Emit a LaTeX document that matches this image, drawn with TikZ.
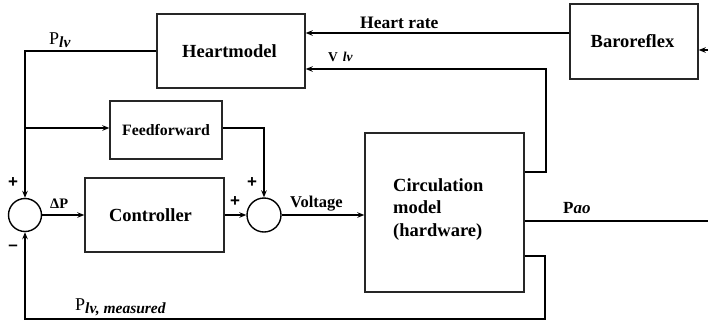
\documentclass[tikz,border=0pt]{standalone}
\usepackage{fontspec}
\setmainfont{Liberation Serif}
\newfontfamily\signfont{Liberation Sans}
\usetikzlibrary{arrows.meta,calc}
\begin{document}
\begin{tikzpicture}[x=1pt,y=-1pt,
  blk/.style={draw=black!85,line width=1.4pt,rectangle,inner sep=0pt},
  sumc/.style={draw=black,line width=1.4pt,circle,inner sep=0pt,minimum size=33pt},
  ln/.style={line width=1.5pt},
  arr/.style={line width=1.5pt,-{Stealth[length=7pt,width=5.5pt]}},
  big/.style={font=\fontsize{18.5}{22}\selectfont\bfseries},
  lab/.style={font=\fontsize{16.5}{18}\selectfont\bfseries,inner sep=0pt},
  sgn/.style={font=\signfont\fontsize{17}{20}\selectfont\bfseries,inner sep=0pt}]
\useasboundingbox[fill=white] (0,0) rectangle (708,322);

% blocks
\node[blk,big,minimum width=148pt,minimum height=74pt] (heart) at (231,51) {\hspace{-3pt}Heartmodel};
\node[blk,minimum width=112pt,minimum height=58pt,font=\fontsize{15.8}{18}\selectfont\bfseries] (ff) at (166,130) {Feedforward};
\node[blk,big,minimum width=128pt,minimum height=75pt] (baro) at (634,41.5) {\hspace{-3pt}Baroreflex};
\node[blk,big,minimum width=139pt,minimum height=74pt] (ctrl) at (154.5,215) {\hspace{-8pt}Controller};
\node[blk,minimum width=159pt,minimum height=159pt] (circ) at (444.5,212.5) {};
\node[big,align=left,anchor=west,inner sep=0pt,font=\fontsize{18.5}{22.5}\selectfont\bfseries] (circtxt) at (393,209.5) {Circulation\\model\\(hardware)};
\node[sumc] (s1) at (25,215) {};
\node[sumc,minimum size=34pt] (s2) at (264,215) {};

% helper coordinates
\coordinate (yhr) at (0,33);
\coordinate (yvlv) at (0,69);
\coordinate (inb) at (708,50);
\coordinate (yplv) at (0,51);
\coordinate (yff) at (0,128);
\coordinate (yup) at (0,172);
\coordinate (ypao) at (0,221);
\coordinate (ylow) at (0,256);
\coordinate (ybot) at (0,319);
\coordinate (pao) at (708,221);
\coordinate (rx1) at (546,0);
\coordinate (rx2) at (545,0);

% connectors
\draw[arr] (baro.west |- yhr) -- (heart.east |- yhr);
\draw[arr] (inb) -- (baro.east |- inb);
\draw[arr] (circ.east |- yup) -- (rx1 |- yup) -- (rx1 |- yvlv) -- (heart.east |- yvlv);
\draw[arr] (heart.west |- yplv) -- (s1 |- yplv) -- (s1.north);
\draw[arr] (s1 |- yff) -- (ff.west |- yff);
\draw[arr] (ff.east |- yff) -- (s2 |- yff) -- (s2.north);
\draw[arr] (s1.east) -- (ctrl.west);
\draw[arr] (ctrl.east) -- (s2.west);
\draw[arr] (s2.east) -- (s2.east -| circ.west);
\draw[ln] (circ.east |- ypao) -- (pao);
\draw[arr] (circ.east |- ylow) -- (rx2 |- ylow) -- (rx2 |- ybot) -- (s1 |- ybot) -- (s1.south);

% labels
\node[lab,anchor=base west,font=\fontsize{17.5}{18}\selectfont\bfseries] (lhr) at (360,28) {Heart rate};
\node[anchor=base west,inner sep=0pt] (lplv) at (49,44) {\fontsize{18}{20}\selectfont P\raisebox{-3pt}{\fontsize{15.5}{17}\selectfont\bfseries\itshape lv}};
\node[anchor=base west,inner sep=0pt] (lvlv) at (328,61) {\fontsize{13.5}{15}\selectfont\bfseries V\hspace{5pt}\itshape lv};
\node[lab,anchor=base west] (ldp) at (50,208) {\fontsize{14.5}{16}\selectfont ΔP};
\node[lab,anchor=base west] (lvolt) at (290,207) {Voltage};
\node[lab,anchor=base west,font=\fontsize{17}{18}\selectfont\bfseries] (lpao) at (563,213) {P\itshape ao};
\node[anchor=base west,inner sep=0pt] (lplvm) at (75,310) {\fontsize{18}{20}\selectfont P\raisebox{-3pt}{\fontsize{15.5}{17}\selectfont\bfseries\itshape lv, measured}};
\node[sgn] (p1) at (13,183) {+};
\node[sgn] (m1) at (13,248) {\textendash};
\node[sgn] (p2) at (235,202) {+};
\node[sgn] (p3) at (252,183) {+};
\end{tikzpicture}
\end{document}
